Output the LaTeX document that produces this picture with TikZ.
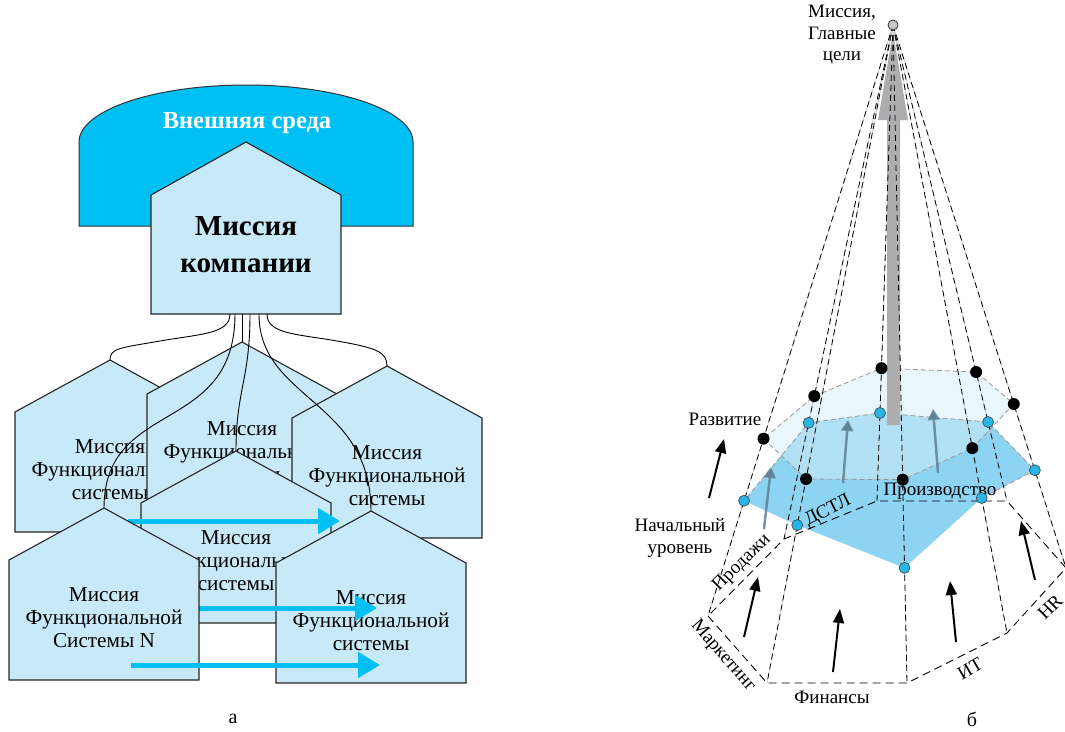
\documentclass[tikz,border=0pt]{standalone}
\usepackage{fontspec}
\setmainfont{Liberation Serif}
\usetikzlibrary{arrows.meta,calc}
\definecolor{envblue}{RGB}{0,191,243}
\definecolor{housefill}{RGB}{199,233,248}
\definecolor{arrowcyan}{RGB}{0,191,243}
\definecolor{lowblue}{RGB}{141,211,242}
\definecolor{upblue}{RGB}{213,238,249}
\definecolor{dotcyan}{RGB}{38,182,232}
\definecolor{slate}{RGB}{95,130,148}
\definecolor{bigarrow}{RGB}{173,173,176}
\tikzset{
  envstyle/.style={fill=envblue, draw=black!80, line width=1pt},
  housestyle/.style={fill=housefill, draw=black!85, line width=1.1pt},
  htext/.style={align=center, font=\fontsize{21.2}{23}\selectfont, inner sep=0pt},
  conn/.style={draw=black, line width=0.9pt},
  bluearrow/.style={draw=arrowcyan, line width=5pt, -{Triangle[length=22pt,width=25pt]}},
  polyedge/.style={draw=black!40, line width=0.8pt, dash pattern=on 5pt off 3pt},
  apexgray/.style={draw=black!25, line width=0.5pt},
  apexdash/.style={draw=black, line width=0.8pt, dash pattern=on 6pt off 4pt},
  basedash/.style={draw=black, line width=0.9pt, dash pattern=on 8pt off 5pt},
  bdot/.style={circle, fill=black, inner sep=0pt, minimum size=12pt},
  cdot/.style={circle, fill=dotcyan, draw=black!70, line width=0.7pt, inner sep=0pt, minimum size=11pt},
  apexdot/.style={circle, fill=black!22, draw=black!80, line width=0.8pt, inner sep=0pt, minimum size=10pt},
  slatearrow/.style={draw=slate, draw opacity=0.85, line width=2.5pt, -{Triangle[length=11pt,width=12pt]}},
  blackarrow/.style={draw=black, line width=2pt, -{Triangle[length=14pt,width=11pt]}},
  lbl/.style={font=\fontsize{19}{21.5}\selectfont, inner sep=0pt, align=center},
}
\newcommand{\drawhouse}[4]{%
  \filldraw[housestyle] ({#1-95},{#2+172}) -- ({#1-95},{#2+52}) -- (#1,#2) -- ({#1+95},{#2+52}) -- ({#1+95},{#2+172}) -- cycle;
  \coordinate (#3) at (#1,#2);
  \node[htext] (#3txt) at (#1,{#2+110}) {#4};
}
\begin{document}
\begin{tikzpicture}[x=1pt,y=-1pt]
\useasboundingbox (0,0) rectangle (1065,731);
% ---------------- panel a ----------------
\filldraw[envstyle] (79,226) -- (79,142) .. controls (79,110.5) and (153.8,85) .. (246,85)
  .. controls (338.2,85) and (413,110.5) .. (413,142) -- (413,226) -- cycle;
\node[font=\bfseries\fontsize{24.5}{28}\selectfont, text=white, inner sep=0pt] (env) at (247,123) {Внешняя среда};
\filldraw[housestyle] (151,314) -- (151,195) -- (246,142) -- (341,195) -- (341,314) -- cycle;
\node[align=center, font=\bfseries\fontsize{29}{37}\selectfont, inner sep=0pt] (comptxt) at (246,245) {Миссия\\компании};
\coordinate (cb1) at (230,314);
\coordinate (cb2) at (235,314);
\coordinate (cb3) at (242,314);
\coordinate (cb4) at (250,314);
\coordinate (cb5) at (259,314);
\coordinate (cb6) at (267,314);
\drawhouse{110}{360}{hA}{Миссия\\Функциональной\\системы}
\drawhouse{242}{342}{hB}{Миссия\\Функциональной\\системы}
\drawhouse{387}{366}{hC}{Миссия\\Функциональной\\системы}
\draw[conn] (cb1) .. controls (230,334) and (200,334) .. (160,341) .. controls (120,348) and (110,348) .. (hA);
\draw[conn] (cb6) .. controls (267,334) and (297,334) .. (337,341) .. controls (377,348) and (387,352) .. (hC);
\draw[conn] (cb3) -- (hB);
\coordinate (hDp) at (236,451);
\coordinate (hEp) at (104,508);
\coordinate (hFp) at (371,511);
\draw[conn] (cb2) .. controls (235,436) and (104,398) .. (hEp);
\draw[conn] (cb4) .. controls (250,380) and (236,390) .. (hDp);
\draw[conn] (cb5) .. controls (259,400) and (371,400) .. (hFp);
\drawhouse{236}{451}{hD}{Миссия\\Функциональной\\системы}
\drawhouse{371}{511}{hF}{Миссия\\Функциональной\\системы}
\coordinate (a1s) at (128,521); \coordinate (a1e) at (340,521);
\coordinate (a2s) at (185,608); \coordinate (a2e) at (377,608);
\coordinate (a3s) at (131,665); \coordinate (a3e) at (380,665);
\draw[bluearrow] (a1s) -- (a1e);
\draw[bluearrow] (a2s) -- (a2e);
\drawhouse{104}{508}{hE}{Миссия\\Функциональной\\Системы N}
\draw[bluearrow] (a3s) -- (a3e);
\node[font=\fontsize{20}{22}\selectfont, inner sep=0pt] (la) at (233,719) {а};
% ---------------- panel b ----------------
\coordinate (A) at (893,25);
\coordinate (V1) at (708,616);
\coordinate (V2) at (767,683);
\coordinate (V3) at (907,683);
\coordinate (V4) at (1007,633);
\coordinate (V5) at (1066,568);
\coordinate (V6) at (1007,501);
\coordinate (V7) at (877,501);
\coordinate (V8) at (784,539);
\foreach \i/\tu/\tl in {1/0.700/0.805, 2/0.690/0.760, 3/0.691/0.825, 4/0.696/0.778,
                        5/0.698/0.820, 6/0.729/0.834, 7/0.721/0.815, 8/0.722/0.774}{
  \coordinate (U\i) at ($(A)!\tu!(V\i)$);
  \coordinate (L\i) at ($(A)!\tl!(V\i)$);
}
\fill[lowblue] (L1) -- (L2) -- (L3) -- (L4) -- (L5) -- (L6) -- (L7) -- (L8) -- cycle;
\fill[upblue, fill opacity=0.52] (U1) -- (U2) -- (U3) -- (U4) -- (U5) -- (U6) -- (U7) -- (U8) -- cycle;
\draw[polyedge] (U1) -- (U2) -- (U3) -- (U4) -- (U5) -- (U6) -- (U7) -- (U8) -- cycle;
\draw[polyedge] (L4) -- (L5) -- (L6) -- (L7) -- (L8) -- (L1);
% big grey arrow
\fill[bigarrow] (887,425) -- (887,120) -- (878,120) -- (893,32) -- (908,120) -- (900,120) -- (900,425) -- cycle;
% lines from apex
\foreach \i in {1,...,8}{
  \draw[apexgray] (A) -- (V\i);
  \draw[apexdash] (A) -- (V\i);
}
\draw[basedash] (V1) -- (V2) -- (V3) -- (V4) -- (V5) -- (V6) -- (V7) -- (V8) -- cycle;
% slate arrows
\coordinate (g1s) at (764,529); \coordinate (g1e) at (771,467);
\coordinate (g2s) at (843,483); \coordinate (g2e) at (848,420);
\coordinate (g3s) at (938,473); \coordinate (g3e) at (933,409);
\draw[slatearrow] (g1s) -- (g1e);
\draw[slatearrow] (g2s) -- (g2e);
\draw[slatearrow] (g3s) -- (g3e);
% black arrows
\coordinate (k1s) at (709,498); \coordinate (k1e) at (724,439);
\coordinate (k2s) at (744,637); \coordinate (k2e) at (758,577);
\coordinate (k3s) at (833,672); \coordinate (k3e) at (840,609);
\coordinate (k4s) at (956,642); \coordinate (k4e) at (950,581);
\coordinate (k5s) at (1035,580); \coordinate (k5e) at (1021,521);
\foreach \i in {1,...,5}{ \draw[blackarrow] (k\i s) -- (k\i e); }
% labels
\node[lbl] (mission) at (842,35) {Миссия,\\Главные\\цели};
\node[lbl] (razv) at (725,419) {Развитие};
\node[lbl] (nach) at (680,538) {Начальный\\уровень};
\node[lbl, rotate=45] (prod) at (742,563) {Продажи};
\node[lbl, rotate=27] (dstl) at (828,511) {ДСТЛ};
\node[lbl] (proizv) at (940,491) {Производство};
\node[lbl, rotate=-49] (mark) at (723,656) {Маркетинг};
\node[lbl] (fin) at (832,697) {Финансы};
\node[lbl, rotate=30] (it) at (970,669) {ИТ};
\node[lbl, rotate=45] (hr) at (1050,607) {HR};
\node[font=\fontsize{20}{22}\selectfont, inner sep=0pt] (lb) at (972,719) {б};
% dots
\foreach \i in {1,...,8}{
  \node[bdot] (u\i) at (U\i) {};
  \node[cdot] (l\i) at (L\i) {};
}
\node[apexdot] (apex) at (A) {};
\end{tikzpicture}
\end{document}
